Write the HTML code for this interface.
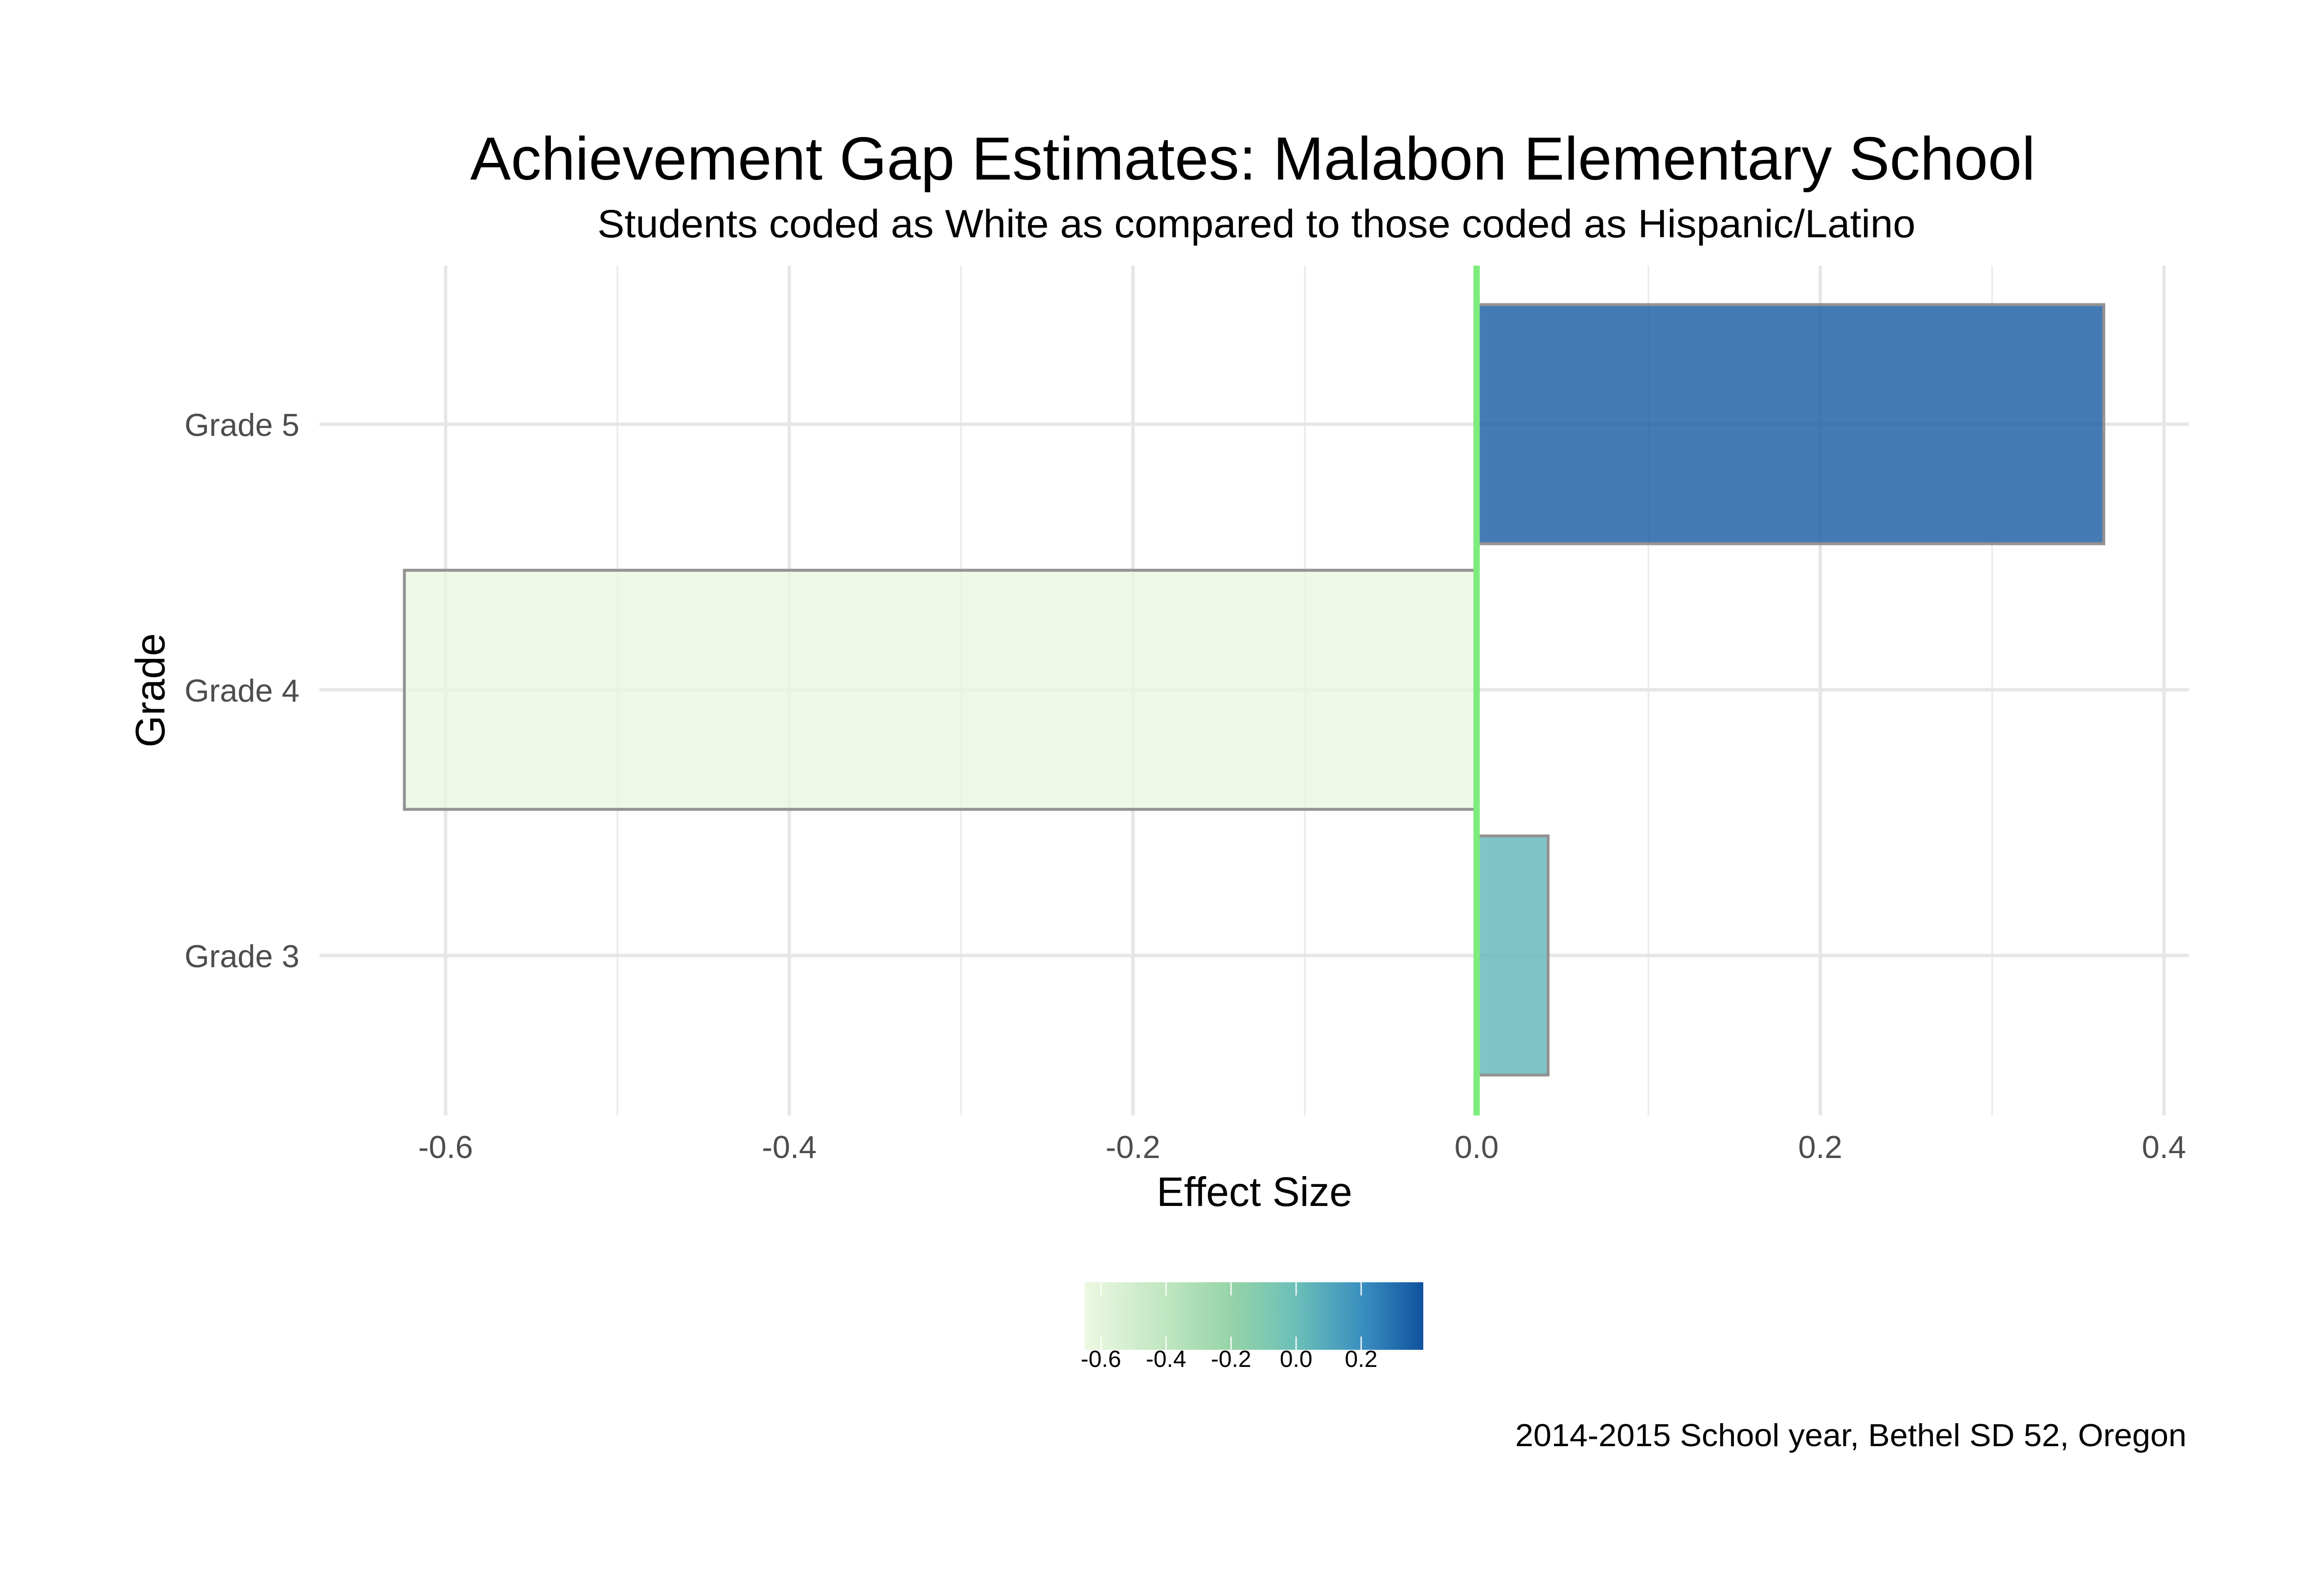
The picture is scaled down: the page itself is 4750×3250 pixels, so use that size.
<!DOCTYPE html>
<html><head><meta charset="utf-8"><style>
html,body{margin:0;padding:0;background:#fff;}
svg{display:block;font-family:"Liberation Sans",Arial,sans-serif;}
</style></head><body>
<svg id="chart" width="4750" height="3250" viewBox="0 0 4750 3250" xmlns="http://www.w3.org/2000/svg">
<defs>
<linearGradient id="gnbu" x1="0" x2="1" y1="0" y2="0">
<stop offset="0" stop-color="#edf8e2"/>
<stop offset="0.24" stop-color="#bfe6c0"/>
<stop offset="0.43" stop-color="#96d4a8"/>
<stop offset="0.62" stop-color="#6cc0b8"/>
<stop offset="0.82" stop-color="#3a8fc0"/>
<stop offset="1" stop-color="#0f529e"/>
</linearGradient>
</defs>
<rect width="4750" height="3250" fill="#fff"/>
<text x="961" y="367" font-size="124" textLength="3199" lengthAdjust="spacingAndGlyphs" fill="#000">Achievement Gap Estimates: Malabon Elementary School</text>
<text x="1221" y="485" font-size="81" textLength="2694" lengthAdjust="spacingAndGlyphs" fill="#000">Students coded as White as compared to those coded as Hispanic/Latino</text>
<g id="grid"></g>
<g id="bars"></g>
<g id="xticks"></g>
<g id="yticks"></g>
<text x="2564" y="2465" font-size="84" text-anchor="middle" fill="#000">Effect Size</text>
<text transform="translate(336,1411) rotate(-90)" font-size="84" text-anchor="middle" fill="#000">Grade</text>
<g id="legend"></g>
<text x="3097" y="2956" font-size="65" textLength="1372" lengthAdjust="spacingAndGlyphs" fill="#000">2014-2015 School year, Bethel SD 52, Oregon</text>
</svg>
<script>
const categories = ["Grade 3", "Grade 4", "Grade 5"];
const effectSizes = [0.0416, -0.624, 0.365];
const xTickValues = [-0.6, -0.4, -0.2, 0.0, 0.2, 0.4];
const xTickLabels = ["-0.6", "-0.4", "-0.2", "0.0", "0.2", "0.4"];
const xMinorValues = [-0.5, -0.3, -0.1, 0.1, 0.3];
const legendTickValues = [-0.6, -0.4, -0.2, 0.0, 0.2];
const legendTickLabels = ["-0.6", "-0.4", "-0.2", "0.0", "0.2"];
const legendRange = [-0.650, 0.391];

const NS = "http://www.w3.org/2000/svg";
const panel = {left: 653, right: 4474, top: 543, bottom: 2280};
const x0 = 3018, pxPerUnit = 3512;
function xScale(v){ return x0 + v * pxPerUnit; }
const band = 543;
function yScale(i){ return 1953 - i * band; }
function mk(tag, attrs, parent){
  const e = document.createElementNS(NS, tag);
  for (const k in attrs) e.setAttribute(k, attrs[k]);
  parent.appendChild(e); return e;
}
const stops = [[0,[237,248,226]],[0.24,[191,230,192]],[0.43,[150,212,168]],[0.62,[108,192,184]],[0.82,[58,143,192]],[1,[15,82,158]]];
function colorFor(v){
  let t = (v - legendRange[0]) / (legendRange[1] - legendRange[0]);
  t = Math.max(0, Math.min(1, t));
  for (let i = 1; i < stops.length; i++){
    if (t <= stops[i][0]){
      const a = stops[i-1], b = stops[i];
      const f = (t - a[0]) / (b[0] - a[0]);
      const c = a[1].map((ch, j) => Math.round(ch + (b[1][j] - ch) * f));
      return "rgb(" + c.join(",") + ")";
    }
  }
  return "rgb(15,82,158)";
}
const grid = document.getElementById("grid");
xMinorValues.forEach(v => {
  const l = mk("line", {x1: xScale(v), x2: xScale(v), y1: panel.top, y2: panel.bottom, stroke: "#ebebeb", "stroke-width": 3.5}, grid);
  
  
});
xTickValues.forEach(v => {
  const l = mk("line", {x1: xScale(v), x2: xScale(v), y1: panel.top, y2: panel.bottom, stroke: "#e6e6e6", "stroke-width": 7}, grid);
  
  
});
categories.forEach((c, i) => {
  const l = mk("line", {x1: panel.left, x2: panel.right, y1: yScale(i), y2: yScale(i), stroke: "#e6e6e6", "stroke-width": 7}, grid);
  
  
});
const bars = document.getElementById("bars");
categories.forEach((c, i) => {
  const v = effectSizes[i];
  const xa = Math.min(xScale(0), xScale(v)), xb = Math.max(xScale(0), xScale(v));
  const h = band * 0.9;
  const r = mk("rect", {x: xa, y: yScale(i) - h/2, width: xb - xa, height: h, fill: colorFor(v), "fill-opacity": 0.8, stroke: "#939393", "stroke-width": 6}, bars);
  
  
});
const zl = mk("line", {x1: xScale(0), x2: xScale(0), y1: panel.top, y2: panel.bottom, stroke: "#7cec7c", "stroke-width": 13}, bars);


const xt = document.getElementById("xticks");
xTickValues.forEach((v, i) => {
  const t = mk("text", {x: xScale(v), y: 2367, "font-size": 65, "text-anchor": "middle", fill: "#4d4d4d"}, xt);
  t.textContent = xTickLabels[i];
  
  
});
const yt = document.getElementById("yticks");
categories.forEach((c, i) => {
  const t = mk("text", {x: 612, y: yScale(i) + 24, "font-size": 65, "text-anchor": "end", fill: "#4d4d4d"}, yt);
  t.textContent = c;
  
  
});
const lg = document.getElementById("legend");
const L = {x: 2217, y: 2621, w: 692, h: 138};
function lx(v){ return L.x + (v - legendRange[0]) / (legendRange[1] - legendRange[0]) * L.w; }
const lb = mk("rect", {x: L.x, y: L.y, width: L.w, height: L.h, fill: "url(#gnbu)"}, lg);


legendTickValues.forEach((v, i) => {
  const a = mk("line", {x1: lx(v), x2: lx(v), y1: L.y, y2: L.y + 27, stroke: "#fff", "stroke-width": 2.5}, lg);
  
  
  const b = mk("line", {x1: lx(v), x2: lx(v), y1: L.y + L.h - 27, y2: L.y + L.h, stroke: "#fff", "stroke-width": 2.5}, lg);
  
  
  const t = mk("text", {x: lx(v), y: 2794, "font-size": 48, "text-anchor": "middle", fill: "#000"}, lg);
  t.textContent = legendTickLabels[i];
  
  
});
</script>
</body></html>
